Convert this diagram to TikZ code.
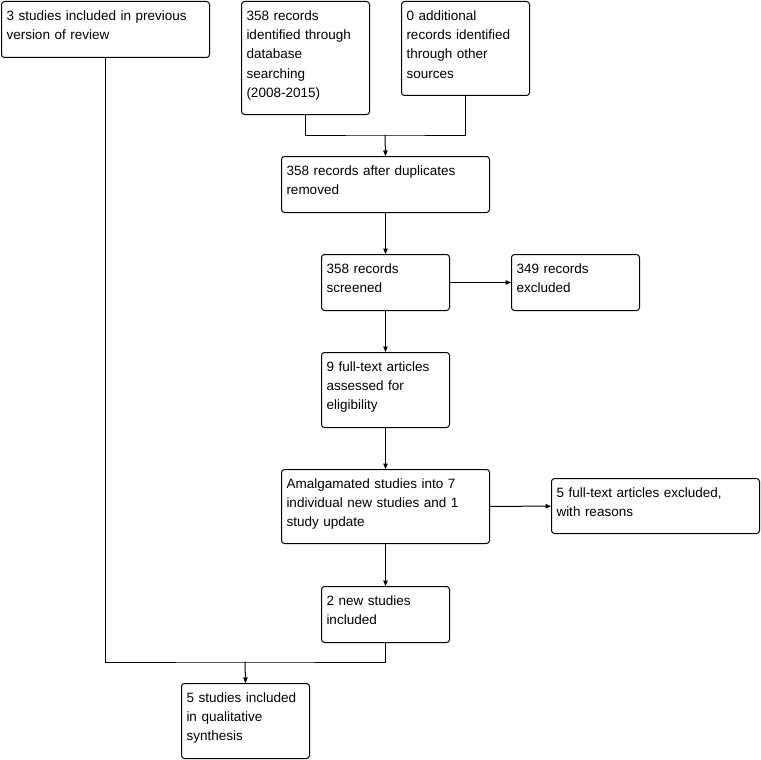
\documentclass[tikz,border=0pt]{standalone}
\usepackage{fontspec}
\setmainfont{Liberation Sans}
\usetikzlibrary{arrows.meta}
\tikzset{
  flowfig/.style={>={Triangle[length=5.5pt,width=4.5pt]},x=1pt,y=-1pt,
    line width=1pt,
    every node/.style={font=\fontsize{13.5}{19.2}\selectfont,align=left}},
  recbox/.style={draw,rounded corners=3pt,anchor=north west,
    inner xsep=5pt,inner ysep=5pt,text height=14pt},
  boxsize/.style 2 args={text width=#1,text depth=#2},
}
\begin{document}
\begin{tikzpicture}[flowfig]
    \useasboundingbox (0,0) rectangle (761,760);
    \node[recbox,boxsize={198pt}{32pt}] (prev) at (1,1)
      {3 studies included in previous\\version of review};
    \node[recbox,boxsize={118pt}{89pt}] (db) at (241,1)
      {358 records\\identified through\\database\\searching\\(2008-2015)};
    \node[recbox,boxsize={118pt}{70pt}] (other) at (401,1)
      {0 additional\\records identified\\through other\\sources};

    \node[recbox,boxsize={198pt}{32pt}] (dup) at (281,156)
      {358 records after duplicates\\removed};
    \coordinate (srcjoin) at (385,135);
    \draw (db.south) |- (srcjoin) -| (other.south);
    \draw[->] (srcjoin) -- (dup.north);

    \node[recbox,boxsize={118pt}{32pt}] (screened) at (321,254)
      {358 records\\screened};
    \node[recbox,boxsize={118pt}{32pt}] (excl) at (511,254)
      {349 records\\excluded};
    \draw[->] (dup.south) -- (screened.north);
    \draw[->] (screened) -- (excl);

    \node[recbox,boxsize={118pt}{51pt}] (fulltext) at (321,352)
      {9 full-text articles\\assessed for\\eligibility};
    \draw[->] (screened.south) -- (fulltext.north);

    \node[recbox,boxsize={198pt}{50pt}] (amalg) at (281,469)
      {Amalgamated studies into 7\\individual new studies and 1\\study update};
    \node[recbox,boxsize={198pt}{31pt}] (ftexcl) at (551,478)
      {5 full-text articles excluded,\\with reasons};
    \draw[->] (fulltext.south) -- (amalg.north);
    \draw[->] (amalg) -- (ftexcl);

    \node[recbox,boxsize={118pt}{32pt}] (newstud) at (321,586)
      {2 new studies\\included};
    \draw[->] (amalg.south) -- (newstud.north);

    \node[recbox,boxsize={118pt}{51pt}] (synth) at (181,683)
      {5 studies included\\in qualitative\\synthesis};
    \coordinate (outjoin) at (245,662);
    \draw (prev.south) |- (outjoin) -| (newstud.south);
    \draw[->] (outjoin) -- (synth.north);
\end{tikzpicture}
\end{document}
